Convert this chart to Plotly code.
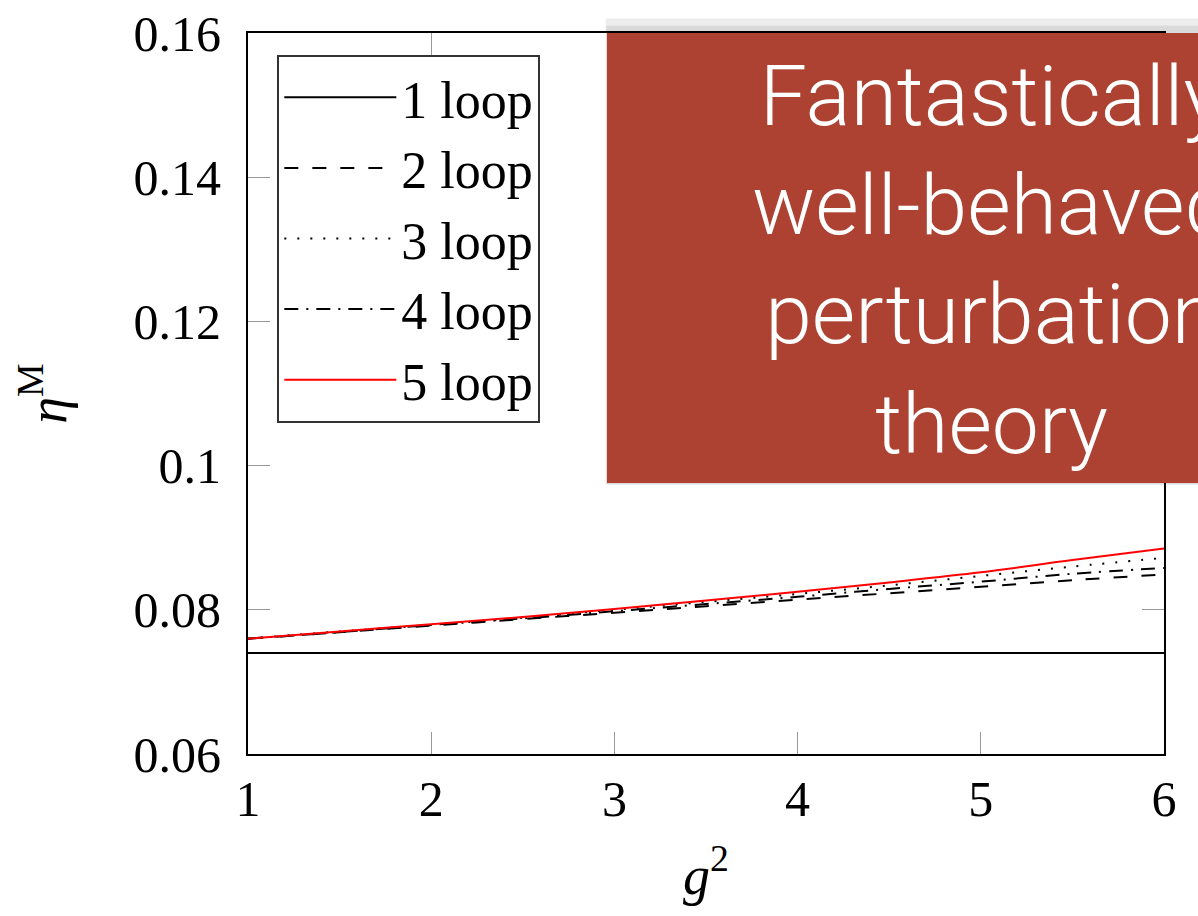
import plotly.graph_objects as go

# ---- data ----
g2 = [1.0, 1.5, 2.0, 2.5, 3.0, 3.5, 4.0, 4.5, 5.0, 5.5, 6.0]
loop1 = [0.0740, 0.0740, 0.0740, 0.0740, 0.0740, 0.0740, 0.0740, 0.0740, 0.0740, 0.0740, 0.0740]
loop2 = [0.0760, 0.0769, 0.0778, 0.0787, 0.0796, 0.0805, 0.0814, 0.0823, 0.0832, 0.0841, 0.0849]
loop3 = [0.0760, 0.0770, 0.0779, 0.0789, 0.0800, 0.0811, 0.0822, 0.0834, 0.0847, 0.0860, 0.0872]
loop4 = [0.0760, 0.0769, 0.0779, 0.0788, 0.0798, 0.0808, 0.0818, 0.0829, 0.0839, 0.0850, 0.0858]
loop5 = [0.0760, 0.0770, 0.0780, 0.0790, 0.0801, 0.0813, 0.0825, 0.0838, 0.0852, 0.0869, 0.0885]

names = ["1 loop", "2 loop", "3 loop", "4 loop", "5 loop"]
series = [loop1, loop2, loop3, loop4, loop5]
colors = ["black", "black", "black", "black", "red"]
dashes = ["solid", "14px,14px", "2px,11px", "14px,8px,2px,8px", "solid"]

xticks = [1, 2, 3, 4, 5, 6]
yticks = [0.06, 0.08, 0.1, 0.12, 0.14, 0.16]
yticklabels = ["0.06", "0.08", "0.1", "0.12", "0.14", "0.16"]

overlay_text = "Fantastically<br>well-behaved<br>perturbation<br>theory"

SERIF = "Liberation Serif"

fig = go.Figure()
for i, (nm, ys, c, d) in enumerate(zip(names, series, colors, dashes)):
    fig.add_trace(go.Scatter(
        x=g2, y=ys, mode="lines", name=nm, legendgroup=str(i),
        line=dict(color=c, width=2, dash=d, shape="spline"),
    ))

fig.update_layout(
    width=1198, height=916,
    margin=dict(l=248, r=34, t=33, b=162),
    paper_bgcolor="white", plot_bgcolor="white",
    font=dict(family=SERIF, size=50, color="black"),
    showlegend=True,
    legend=dict(
        x=0.032, y=0.9695, xanchor="left", yanchor="top",
        bgcolor="white", bordercolor="#333", borderwidth=2,
        font=dict(family=SERIF, size=52, color="black"),
        tracegroupgap=0, itemwidth=112,
    ),
    xaxis=dict(
        range=[1, 6], tickvals=xticks, ticktext=[str(v) for v in xticks],
        showgrid=False, zeroline=False, automargin=False,
        showline=True, linecolor="black", linewidth=2, mirror="allticks",
        ticks="inside", ticklen=22, tickcolor="#999", tickwidth=1,
        ticklabelstandoff=0,
        title=dict(text="<i>g</i><sup>2</sup>", font=dict(family=SERIF, size=54), standoff=30),
    ),
    yaxis=dict(
        range=[0.06, 0.16], tickvals=yticks, ticktext=yticklabels,
        showgrid=False, zeroline=False, automargin=False,
        showline=True, linecolor="black", linewidth=2, mirror="allticks",
        ticks="inside", ticklen=22, tickcolor="#999", tickwidth=1,
        ticklabelstandoff=15,
        title=dict(text="<i>η</i><sup>M</sup>", font=dict(family=SERIF, size=54), standoff=50),
    ),
)

# slide overlay box with soft shadow
fig.add_shape(type="rect", xref="paper", yref="paper",
              x0=0.3905, x1=1.25, y0=0.3730, y1=1.020,
              line=dict(width=0), fillcolor="rgba(0,0,0,0.07)", layer="above")
fig.add_shape(type="rect", xref="paper", yref="paper",
              x0=0.3912, x1=1.25, y0=0.3745, y1=1.010,
              line=dict(width=0), fillcolor="rgba(0,0,0,0.08)", layer="above")
fig.add_shape(type="rect", xref="paper", yref="paper",
              x0=0.3919, x1=1.2325, y0=0.3759, y1=1.0,
              line=dict(width=0), fillcolor="#AD4232", layer="above")
fig.add_annotation(
    xref="paper", yref="paper", x=0.812, y=0.684,
    xanchor="center", yanchor="middle", showarrow=False,
    text=overlay_text, align="center",
    font=dict(family="Roboto", size=84, color="white", weight=300),
)

fig.write_html("out.html")
